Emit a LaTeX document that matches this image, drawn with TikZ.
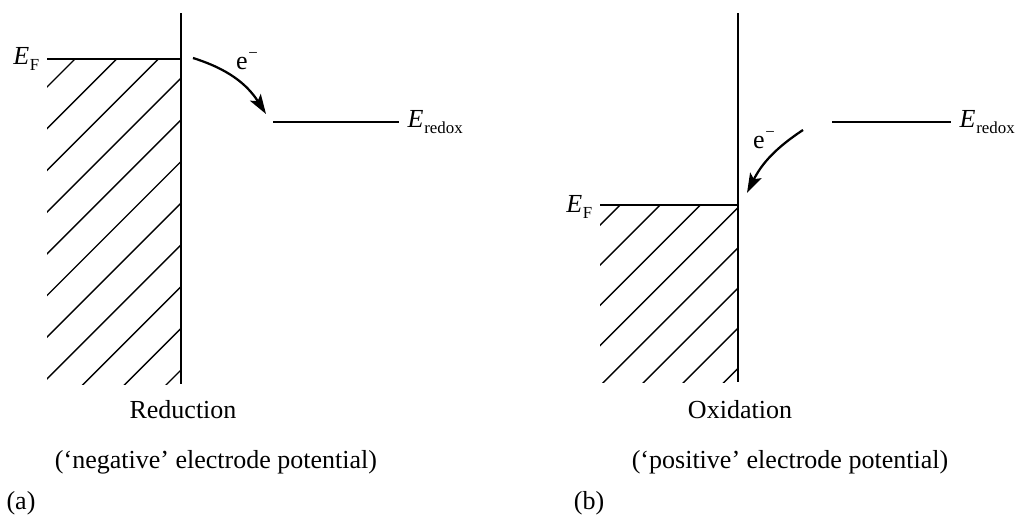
\documentclass[tikz,border=0pt]{standalone}
\usepackage{fontspec}
\setmainfont{Liberation Serif}
\usetikzlibrary{arrows.meta}
\newcommand{\Elev}[1]{\textit{E}\kern0.5pt\raisebox{-0.45ex}{\fontsize{12}{12}\selectfont #1}}
\newcommand{\elec}{e\kern0.5pt\raisebox{0.9ex}{\fontsize{12}{12}\selectfont −}}

\begin{document}
\begin{tikzpicture}[x=0.025cm,y=0.025cm,
  wall/.style={line width=1.6pt},
  level/.style={line width=1.8pt},
  hatch/.style={line width=1pt},
  etrans/.style={-{Stealth[length=14pt,width=9pt,inset=3pt]},line width=1.6pt},
  lbl/.style={font=\fontsize{18.5}{22}\selectfont,inner sep=1pt}
]
  \useasboundingbox (0,0) rectangle (1021,516);

  % (a) reduction
  \coordinate (wTa) at (181,503);
  \coordinate (wBa) at (181,132);
  \coordinate (fLa) at (47,457);
  \coordinate (fRa) at (181,457);
  \coordinate (rLa) at (273,394);
  \coordinate (rRa) at (399,394);
  \coordinate (eSa) at (193,458);
  \coordinate (eEa) at (266,402);
  \begin{scope}
    \clip (47,132) rectangle (181,457);
    \foreach \k in {0,...,10}
      \draw[hatch] ({-282+41.7*\k},100) -- ++(450,450);
  \end{scope}
  \draw[wall] (wTa) -- (wBa);
  \draw[level] (fLa) -- (fRa);
  \draw[level] (rLa) -- (rRa);
  \draw[etrans] (eSa) to[bend left=20] (eEa);
  \node[lbl,anchor=east] (EFa) at (41,457) {\Elev{F}};
  \node[lbl,anchor=west] (ERa) at (406,394) {\Elev{redox}};
  \node[lbl] (ela) at (247,455) {\elec};
  \node[lbl] (reda) at (183,106) {Reduction};
  \node[lbl] (nega) at (216,54) {(‘negative’ electrode potential)};
  \node[lbl] (tagA) at (21,13) {(a)};

  % (b) oxidation
  \coordinate (wTb) at (738,503);
  \coordinate (wBb) at (738,134);
  \coordinate (fLb) at (600,311);
  \coordinate (fRb) at (738,311);
  \coordinate (rLb) at (832,394);
  \coordinate (rRb) at (951,394);
  \coordinate (eSb) at (803,386);
  \coordinate (eEb) at (747,323);
  \begin{scope}
    \clip (600,134) rectangle (738,311);
    \foreach \k in {0,...,7}
      \draw[hatch] ({409+40.2*\k},100) -- ++(450,450);
  \end{scope}
  \draw[wall] (wTb) -- (wBb);
  \draw[level] (fLb) -- (fRb);
  \draw[level] (rLb) -- (rRb);
  \draw[etrans] (eSb) to[bend right=15] (eEb);
  \node[lbl,anchor=east] (EFb) at (594,309) {\Elev{F}};
  \node[lbl,anchor=west] (ERb) at (958,394) {\Elev{redox}};
  \node[lbl] (elb) at (764,376) {\elec};
  \node[lbl] (oxb) at (740,106) {Oxidation};
  \node[lbl] (posb) at (790,54) {(‘positive’ electrode potential)};
  \node[lbl] (tagB) at (589,13) {(b)};
\end{tikzpicture}
\end{document}
